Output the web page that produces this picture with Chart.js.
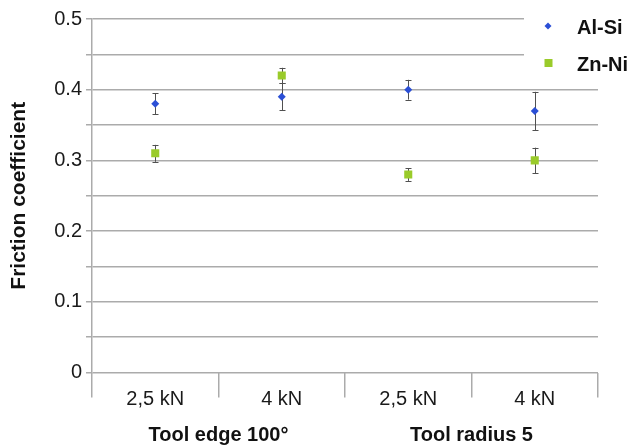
<!DOCTYPE html>
<html>
<head>
<meta charset="utf-8">
<script src="https://cdn.jsdelivr.net/npm/chart.js@4/dist/chart.umd.min.js"></script>
<style>
html,body{margin:0;padding:0;background:#fff;}
canvas{display:block;}
</style>
</head>
<body>
<canvas id="c" width="631" height="446"></canvas>
<script>
const categories = ['2,5 kN', '4 kN', '2,5 kN', '4 kN'];
const groupLabels = ['Tool edge 100°', 'Tool radius 5'];
const alSi = [0.38, 0.39, 0.40, 0.37];
const alSiErr = [0.015, 0.019, 0.014, 0.027];
const znNi = [0.31, 0.42, 0.28, 0.30];
const znNiErr = [0.012, 0.011, 0.009, 0.018];
const yLabelValues = [0, 0.1, 0.2, 0.3, 0.4, 0.5];

const FONT = "'Liberation Sans', Arial, sans-serif";
const GRID = '#ababab';

const errorBars = {
  id: 'errorBars',
  beforeDatasetsDraw(chart) {
    const ctx = chart.ctx;
    const y = chart.scales.y;
    ctx.save();
    ctx.strokeStyle = '#505050';
    ctx.lineWidth = 1;
    chart.data.datasets.forEach((ds, i) => {
      const meta = chart.getDatasetMeta(i);
      meta.data.forEach((pt, j) => {
        const v = ds.data[j], e = ds.errors[j];
        const x = Math.round(pt.x) + 0.5;
        const y1 = y.getPixelForValue(v + e), y2 = y.getPixelForValue(v - e);
        ctx.beginPath();
        ctx.moveTo(x, y1); ctx.lineTo(x, y2);
        ctx.moveTo(x - 3, Math.round(y1) + 0.5); ctx.lineTo(x + 3, Math.round(y1) + 0.5);
        ctx.moveTo(x - 3, Math.round(y2) + 0.5); ctx.lineTo(x + 3, Math.round(y2) + 0.5);
        ctx.stroke();
      });
    });
    ctx.restore();
  }
};

const customLegend = {
  id: 'customLegend',
  afterDraw(chart) {
    const ctx = chart.ctx;
    ctx.save();
    ctx.fillStyle = '#ffffff';
    ctx.fillRect(524, 8, 107, 72);
    const rows = [{y: 26}, {y: 63}];
    chart.data.datasets.forEach((ds, i) => {
      const cy = rows[i].y;
      ctx.fillStyle = ds.backgroundColor;
      ctx.beginPath();
      if (ds.pointStyle === 'rectRot') {
        ctx.moveTo(548, cy - 3.5); ctx.lineTo(551.5, cy); ctx.lineTo(548, cy + 3.5); ctx.lineTo(544.5, cy);
        ctx.closePath(); ctx.fill();
      } else {
        ctx.fillRect(544.5, cy - 4, 8, 8);
      }
      ctx.fillStyle = '#111';
      ctx.font = 'bold 20px ' + FONT;
      ctx.textBaseline = 'middle';
      ctx.textAlign = 'left';
      ctx.fillText(ds.label, 577, cy + 2);
    });
    ctx.restore();
  }
};

new Chart(document.getElementById('c'), {
  type: 'line',
  data: {
    labels: categories,
    datasets: [
      {
        label: 'Al-Si', data: alSi, errors: alSiErr, showLine: false,
        pointStyle: 'rectRot', pointRadius: 4, pointHoverRadius: 4,
        backgroundColor: '#2b4fd6', borderColor: '#2b4fd6', pointBorderWidth: 0
      },
      {
        label: 'Zn-Ni', data: znNi, errors: znNiErr, showLine: false,
        pointStyle: 'rect', pointRadius: 5.7, pointHoverRadius: 5.7,
        backgroundColor: '#9acb2a', borderColor: '#9acb2a', pointBorderWidth: 0
      }
    ]
  },
  options: {
    responsive: false,
    animation: false,
    devicePixelRatio: 1,
    layout: { padding: { top: 19, right: 33, bottom: 0, left: 0 } },
    plugins: { legend: { display: false }, tooltip: { enabled: false } },
    scales: {
      x: {
        type: 'category',
        position: 'bottom',
        weight: 0,
        offset: true,
        grid: { offset: true, drawOnChartArea: false, tickLength: 25, tickColor: GRID, lineWidth: 1.5 },
        border: { display: false },
        ticks: { padding: -10, color: '#1a1a1a', font: { family: FONT, size: 20 }, maxRotation: 0 },
        afterFit(s) { s.height = 38; }
      },
      x2: {
        type: 'category',
        position: 'bottom',
        weight: 1,
        labels: groupLabels,
        offset: true,
        grid: { display: false, drawTicks: false },
        border: { display: false },
        ticks: { padding: 12.5, color: '#111', font: { family: FONT, size: 20, weight: 'bold' }, maxRotation: 0 },
        afterFit(s) { s.height = 35.5; }
      },
      y: {
        min: 0, max: 0.5,
        grid: { color: GRID, lineWidth: 1.5, tickLength: 6, tickColor: GRID },
        border: { color: GRID, width: 1.5 },
        ticks: {
          stepSize: 0.05,
          padding: 4,
          color: '#1a1a1a',
          font: { family: FONT, size: 20 },
          callback(v) {
            const r = Math.round(v * 10) / 10;
            return yLabelValues.some(t => Math.abs(t - v) < 1e-6) ? String(r) : '';
          }
        },
        title: {
          display: true, text: 'Friction coefficient', color: '#111',
          font: { family: FONT, size: 21, weight: 'bold' },
          padding: { top: 7, bottom: 0 }
        },
        afterFit(s) { s.width = 92; }
      }
    }
  },
  plugins: [errorBars, customLegend]
});
</script>
</body>
</html>
